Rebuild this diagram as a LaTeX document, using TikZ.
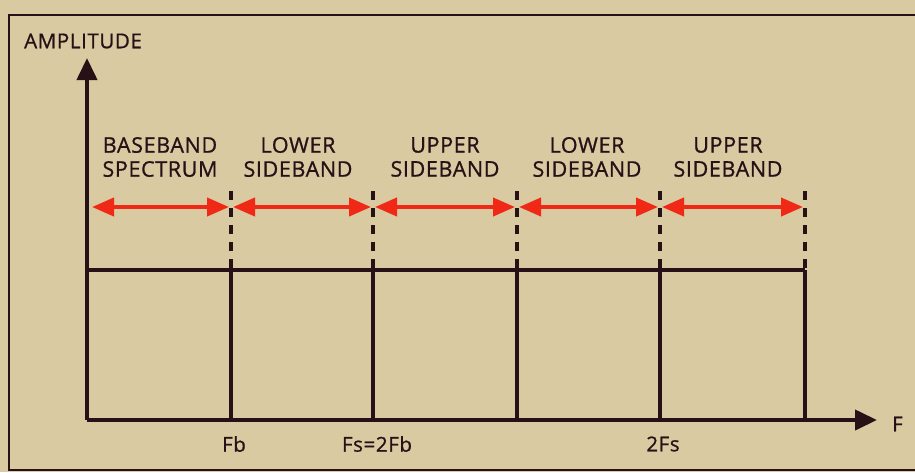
\documentclass[tikz,border=0pt]{standalone}
\usepackage{fontspec}
\setmainfont{Open Sans}[FakeBold=0.9,LetterSpace=3]
\usetikzlibrary{arrows.meta}
\definecolor{bg}{RGB}{217,202,162}
\definecolor{ink}{RGB}{38,18,22}
\definecolor{redar}{RGB}{240,40,22}
\tikzset{
  axis/.style={ink, line width=4pt, -{Triangle[length=22pt,width=20pt]}},
  solidline/.style={ink, line width=4pt},
  dashline/.style={ink, line width=4pt, dash pattern=on 9pt off 8pt},
  band/.style={redar, line width=4pt, {Triangle[length=22pt,width=18pt]}-{Triangle[length=22pt,width=18pt]}, shorten <=2pt, shorten >=2pt},
  lbl/.style={font=\fontsize{21.5pt}{24pt}\selectfont, text=ink, align=center, inner sep=0pt},
  tick/.style={font=\fontsize{20.5pt}{24pt}\selectfont, text=ink, inner sep=0pt}
}
\begin{document}
\begin{tikzpicture}[x=1pt,y=-1pt]
\fill[bg] (0,0) rectangle (915,472);
\useasboundingbox (0,0) rectangle (915,472);
\draw[ink, line width=2pt] (915,15) -- (9,15) -- (9,470) -- (915,470);
% base coordinates
\coordinate (o) at (87,420);
\coordinate (ytop) at (87,58);
\coordinate (xend) at (877,420);
\foreach \n/\x in {1/231,2/373,3/517,4/660,5/805}{
  \coordinate (b\n) at (\x,420);
  \coordinate (t\n) at (\x,270);
  \coordinate (d\n) at (\x,191);
  \coordinate (a\n) at (\x,207);
}
\coordinate (a0) at (87,207);
\coordinate (t0) at (87,270);
% axes
\draw[axis] (o) -- (ytop);
\draw[axis] (o) -- (xend);
% rectangle top and verticals
\draw[solidline] (t0) -- (t5);
\foreach \n in {1,...,5}{
  \draw[solidline] (t\n) -- (b\n);
  \draw[dashline] (d\n) -- (t\n);
}
% red arrows
\draw[band, shorten <=5pt] (a0) -- (a1);
\draw[band] (a1) -- (a2);
\draw[band] (a2) -- (a3);
\draw[band] (a3) -- (a4);
\draw[band] (a4) -- (a5);
% labels
\node[tick, anchor=west] (amp) at (24,41) {AMPLITUDE};
\node[tick, anchor=west] (f) at (892,424) {F};
\node[lbl] (l1) at (160,157) {BASEBAND\\SPECTRUM};
\node[lbl] (l2) at (298,157) {LOWER\\SIDEBAND};
\node[lbl] (l3) at (445,157) {UPPER\\SIDEBAND};
\node[lbl] (l4) at (587,157) {LOWER\\SIDEBAND};
\node[lbl] (l5) at (728,157) {UPPER\\SIDEBAND};
\node[tick] (fb) at (234,444) {Fb};
\node[tick] (fs) at (377,444) {Fs=2Fb};
\node[tick] (fs2) at (663,444) {2Fs};
\end{tikzpicture}
\end{document}
